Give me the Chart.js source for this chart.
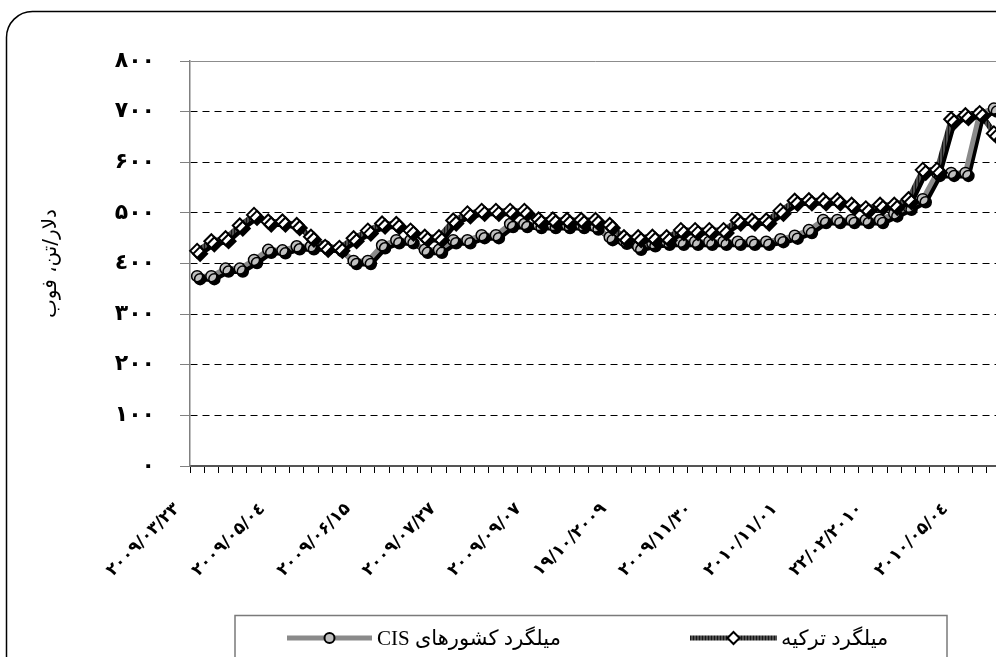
<!DOCTYPE html>
<html>
<head>
<meta charset="utf-8">
<script src="https://cdn.jsdelivr.net/npm/chart.js@4.4.1/dist/chart.umd.min.js"></script>
<style>
  html, body { margin: 0; padding: 0; background: #fff; overflow: hidden; }
  canvas { display: block; }
</style>
</head>
<body>
<canvas id="myChart" width="1010" height="657"></canvas>
<script>
// weekly categories (first label 2009/03/23, one label every 6 weeks)
const categories = [
  '2009-03-23', '2009-03-30', '2009-04-06', '2009-04-13', '2009-04-20', '2009-04-27',
  '2009-05-04', '2009-05-11', '2009-05-18', '2009-05-25', '2009-06-01', '2009-06-08',
  '2009-06-15', '2009-06-22', '2009-06-29', '2009-07-06', '2009-07-13', '2009-07-20',
  '2009-07-27', '2009-08-03', '2009-08-10', '2009-08-17', '2009-08-24', '2009-08-31',
  '2009-09-07', '2009-09-14', '2009-09-21', '2009-09-28', '2009-10-05', '2009-10-12',
  '2009-10-19', '2009-10-26', '2009-11-02', '2009-11-09', '2009-11-16', '2009-11-23',
  '2009-11-30', '2009-12-07', '2009-12-14', '2009-12-21', '2009-12-28', '2010-01-04',
  '2010-01-11', '2010-01-18', '2010-01-25', '2010-02-01', '2010-02-08', '2010-02-15',
  '2010-02-22', '2010-03-01', '2010-03-08', '2010-03-15', '2010-03-22', '2010-03-29',
  '2010-04-05', '2010-04-12', '2010-04-19'
];

const tickLabels = [
  '۲۰۰۹/۰۳/۲۳', '۲۰۰۹/۰۵/۰٤', '۲۰۰۹/۰۶/۱۵', '۲۰۰۹/۰۷/۲۷', '۲۰۰۹/۰۹/۰۷',
  '۱۹/۱۰/۲۰۰۹', '۲۰۰۹/۱۱/۳۰', '۲۰۱۰/۱۱/۰۱', '۲۲/۰۲/۲۰۱۰', '۲۰۱۰/۰۵/۰٤'
];
const labelEvery = 6;

const cisLabel = 'میلگرد کشورهای CIS';
const cisValues = [
  375, 375, 390, 390, 407, 427, 426, 434, 434, 434,
  430, 405, 405, 436, 446, 446, 427, 427, 446, 446,
  456, 456, 478, 478, 476, 476, 476, 476, 473, 452,
  445, 433, 440, 443, 443, 443, 443, 443, 443, 443,
  443, 448, 455, 466, 486, 486, 486, 486, 486, 499,
  512, 527, 579, 579, 579, 697, 706
];

const turkeyLabel = 'میلگرد ترکیه';
const turkeyValues = [
  425, 444, 450, 475, 496, 483, 483, 476, 453, 433,
  431, 450, 465, 479, 478, 465, 453, 452, 485, 499,
  504, 504, 504, 504, 487, 487, 486, 486, 486, 476,
  452, 452, 453, 452, 466, 466, 466, 466, 485, 485,
  485, 504, 524, 525, 525, 525, 516, 509, 516, 516,
  527, 585, 585, 685, 693, 697, 657
];

const yTitle = 'دلار/تن، فوب';

const faDigits = ['۰', '۱', '۲', '۳', '٤', '۵', '۶', '۷', '۸', '۹'];
function toFa(n) {
  return String(n).replace(/\d/g, function (d) { return faDigits[d]; });
}

var canvas = document.getElementById('myChart');
var ctx = canvas.getContext('2d');

// striped stroke for the Turkey line
var pc = document.createElement('canvas');
pc.width = 3; pc.height = 3;
var pctx = pc.getContext('2d');
pctx.fillStyle = '#505050';
pctx.fillRect(0, 0, 3, 3);
pctx.fillStyle = '#151515';
pctx.fillRect(0, 0, 1, 3);
var turkeyStroke = ctx.createPattern(pc, 'repeat');

// white page + rounded outer frame
const framePlugin = {
  id: 'frame',
  beforeDraw(chart) {
    const c = chart.ctx;
    c.save();
    c.fillStyle = '#fff';
    c.fillRect(0, 0, chart.width, chart.height);
    const x = 6.5, y = 11.5, w = 1200, h = 900, r = 26;
    c.beginPath();
    c.moveTo(x + r, y);
    c.lineTo(x + w, y);
    c.lineTo(x + w, y + h);
    c.lineTo(x, y + h);
    c.lineTo(x, y + r);
    c.arcTo(x, y, x + r, y, r);
    c.closePath();
    c.lineWidth = 1.5;
    c.strokeStyle = '#000';
    c.stroke();
    c.restore();
  }
};

// black drop shadow under the lines and markers
const shadowPlugin = {
  id: 'dropShadow',
  beforeDatasetDraw(chart) {
    const c = chart.ctx;
    c.save();
    c.shadowColor = '#000';
    c.shadowOffsetX = 3;
    c.shadowOffsetY = 3;
    c.shadowBlur = 0;
  },
  afterDatasetDraw(chart) {
    chart.ctx.restore();
  }
};

// boxed legend under the chart, symbol left of text
const boxLegend = {
  id: 'boxLegend',
  afterDraw(chart) {
    const c = chart.ctx;
    const ds = chart.data.datasets;
    c.save();
    c.strokeStyle = '#7a7a7a';
    c.lineWidth = 1.5;
    c.strokeRect(235, 615.5, 712, 80);

    const rowY = 638;
    const items = [
      { ds: ds[0], x1: 287, x2: 372, tx: 377 },
      { ds: ds[1], x1: 690, x2: 777, tx: 781 }
    ];
    items.forEach(function (it) {
      const d = it.ds;
      c.beginPath();
      c.moveTo(it.x1, rowY);
      c.lineTo(it.x2, rowY);
      c.lineWidth = 5;
      c.strokeStyle = d.borderColor;
      c.stroke();
      const cx = (it.x1 + it.x2) / 2;
      c.beginPath();
      if (d.pointStyle === 'rectRot') {
        const r = 6;
        c.moveTo(cx, rowY - r);
        c.lineTo(cx + r, rowY);
        c.lineTo(cx, rowY + r);
        c.lineTo(cx - r, rowY);
        c.closePath();
      } else {
        c.arc(cx, rowY, 5, 0, Math.PI * 2);
      }
      c.fillStyle = d.pointBackgroundColor;
      c.fill();
      c.lineWidth = 2;
      c.strokeStyle = '#000';
      c.stroke();

      c.direction = 'rtl';
      c.textAlign = 'left';
      c.textBaseline = 'middle';
      c.fillStyle = '#000';
      c.font = '21px "Liberation Serif", "DejaVu Sans", serif';
      c.fillText(d.label, it.tx, rowY + 1);
    });
    c.restore();
  }
};

const data = {
  labels: categories,
  datasets: [
    {
      label: cisLabel,
      data: cisValues,
      borderColor: '#8a8a8a',
      borderWidth: 5,
      pointStyle: 'circle',
      pointRadius: 5.5,
      pointBackgroundColor: '#c0c0c0',
      pointBorderColor: '#000',
      pointBorderWidth: 1.5,
      tension: 0,
      order: 2
    },
    {
      label: turkeyLabel,
      data: turkeyValues,
      borderColor: turkeyStroke,
      borderWidth: 5,
      pointStyle: 'rectRot',
      pointRadius: 7,
      pointBackgroundColor: '#fff',
      pointBorderColor: '#000',
      pointBorderWidth: 2,
      tension: 0,
      order: 1
    }
  ]
};

const config = {
  type: 'line',
  data: data,
  plugins: [framePlugin, shadowPlugin, boxLegend],
  options: {
    responsive: false,
    animation: false,
    layout: { padding: { left: 10, right: 3, top: 61, bottom: 0 } },
    plugins: {
      legend: { display: false },
      tooltip: { enabled: false }
    },
    scales: {
      x: {
        offset: true,
        afterFit: function (scale) {
          scale.height = 191;
          scale.paddingLeft = 0;
          scale.paddingRight = 0;
        },
        grid: {
          offset: true,
          drawOnChartArea: false,
          drawTicks: true,
          tickLength: 7,
          tickColor: '#000',
          color: '#000'
        },
        border: { display: true, color: '#555', width: 2 },
        ticks: {
          autoSkip: false,
          minRotation: 45,
          maxRotation: 45,
          labelOffset: -20,
          padding: 26,
          color: '#000',
          font: { family: 'DejaVu Sans', size: 17, weight: 'bold' },
          callback: function (value, index) {
            return index % labelEvery === 0 ? tickLabels[index / labelEvery] : '';
          }
        }
      },
      y: {
        min: 0,
        max: 800,
        afterFit: function (scale) { scale.width = 180; },
        grid: {
          drawTicks: true,
          tickLength: 10,
          tickColor: '#808080',
          lineWidth: 1,
          color: function (c) {
            if (!c.tick) return '#000';
            if (c.tick.value === 800) return '#8c8c8c';
            if (c.tick.value === 0) return 'rgba(0,0,0,0)';
            return '#000';
          }
        },
        border: {
          display: true,
          color: '#808080',
          width: 1.5,
          dash: function (c) {
            return c.tick && c.tick.value === 800 ? [] : [7, 5];
          }
        },
        ticks: {
          stepSize: 100,
          padding: 25,
          color: '#000',
          font: { family: 'DejaVu Sans', size: 22, weight: 'bold' },
          callback: function (value) { return toFa(value); }
        },
        title: {
          display: true,
          text: yTitle,
          color: '#000',
          font: { family: 'DejaVu Sans', size: 20 },
          padding: { top: 29, bottom: 0 }
        }
      }
    }
  }
};

var myChart = new Chart(canvas, config);
</script>
</body>
</html>
